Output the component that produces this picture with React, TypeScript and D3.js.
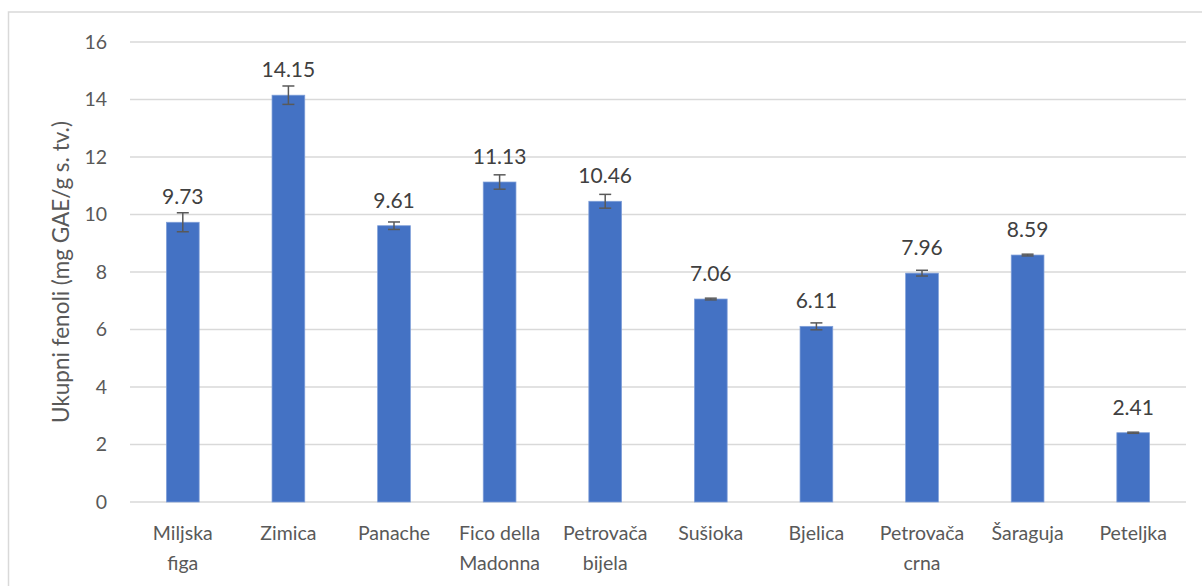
import React from "react";
import * as d3 from "d3";

const categories: string[][] = [
  ["Miljska", "figa"],
  ["Zimica"],
  ["Panache"],
  ["Fico della", "Madonna"],
  ["Petrovača", "bijela"],
  ["Sušioka"],
  ["Bjelica"],
  ["Petrovača", "crna"],
  ["Šaraguja"],
  ["Peteljka"],
];
const values = [9.73, 14.15, 9.61, 11.13, 10.46, 7.06, 6.11, 7.96, 8.59, 2.41];
const errors = [0.33, 0.32, 0.13, 0.25, 0.24, 0.03, 0.12, 0.1, 0.03, 0.02];
const yTicks = [0, 2, 4, 6, 8, 10, 12, 14, 16];
const yTitle = "Ukupni fenoli (mg GAE/g s. tv.)";

const W = 1202;
const H = 586;
const left = 130;
const right = 1186;
const top = 42;
const bottom = 502;
const font = "Lato, 'Open Sans', sans-serif";

export default function App() {
  const x = d3
    .scaleBand<number>()
    .domain(d3.range(values.length))
    .range([left, right])
    .paddingInner(0.69)
    .paddingOuter(0.345);
  const y = d3.scaleLinear().domain([0, 16]).range([bottom, top]);
  const bw = x.bandwidth();

  return (
    <svg
      width={W}
      height={H}
      style={{ position: "absolute", left: 0, top: 0, background: "#fff" }}
    >
      <rect x={8.5} y={12} width={W} height={H} fill="#fff" stroke="#d9d9d9" strokeWidth={1.5} />
      {yTicks.map((t) => (
        <g key={t}>
          <line x1={left} x2={right} y1={y(t)} y2={y(t)} stroke="#d9d9d9" strokeWidth={1.5} />
          <text
            x={107}
            y={y(t)}
            dy="0.35em"
            textAnchor="end"
            fontFamily={font}
            fontSize={19.5}
            fill="#595959"
          >
            {t}
          </text>
        </g>
      ))}
      {values.map((v, i) => {
        const cx = (x(i) as number) + bw / 2;
        return (
          <g key={i}>
            <rect
              x={x(i)}
              y={y(v)}
              width={bw}
              height={y(0) - y(v)}
              fill="#4472C4"
              stroke="#7f9fd8"
              strokeWidth={0.75}
            />
            <line x1={cx} x2={cx} y1={y(v + errors[i])} y2={y(v - errors[i])} stroke="#595959" strokeWidth={1.5} />
            <line x1={cx - 6} x2={cx + 6} y1={y(v + errors[i])} y2={y(v + errors[i])} stroke="#595959" strokeWidth={1.5} />
            <line x1={cx - 6} x2={cx + 6} y1={y(v - errors[i])} y2={y(v - errors[i])} stroke="#595959" strokeWidth={1.5} />
            <text
              x={cx}
              y={y(v) - 18}
              textAnchor="middle"
              fontFamily={font}
              fontSize={21}
              fill="#404040"
            >
              {v.toFixed(2)}
            </text>
            {categories[i].map((line, j) => (
              <text
                key={j}
                x={cx}
                y={540 + j * 30}
                textAnchor="middle"
                fontFamily={font}
                fontSize={19.5}
                fill="#595959"
              >
                {line}
              </text>
            ))}
          </g>
        );
      })}
      <text
        transform={`translate(69,272) rotate(-90)`}
        textAnchor="middle"
        fontFamily={font}
        fontSize={22.5}
        fill="#595959"
      >
        {yTitle}
      </text>
    </svg>
  );
}
